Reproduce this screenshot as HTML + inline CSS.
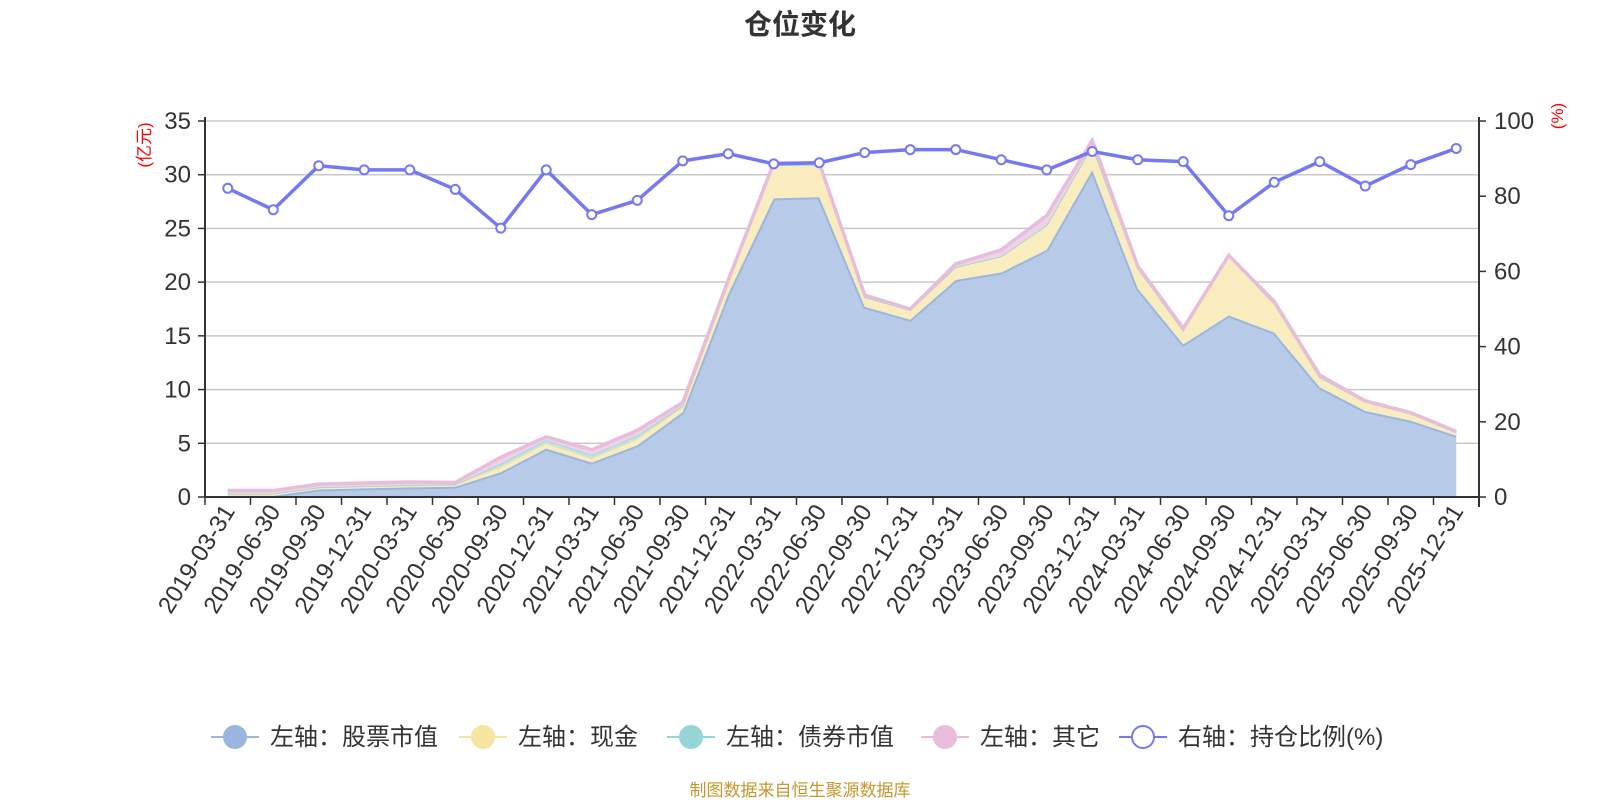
<!DOCTYPE html>
<html><head><meta charset="utf-8"><style>
html,body{margin:0;padding:0;background:#fff;}
svg{display:block;font-family:"Liberation Sans","Noto Sans CJK SC",sans-serif;}
</style></head><body>
<svg id="chart" width="1600" height="800" viewBox="0 0 1600 800" xmlns="http://www.w3.org/2000/svg">
<text x="800" y="34" text-anchor="middle" font-size="28" font-weight="bold" fill="#333">仓位变化</text>
<text transform="translate(150,145) rotate(-90)" text-anchor="middle" font-size="17" fill="#ff0000">(亿元)</text>
<text transform="translate(1563,116) rotate(-90)" text-anchor="middle" font-size="17" fill="#ff0000">(%)</text>
<g id="grid"></g><g id="areas"></g><g id="axes"></g><g id="pline"></g>
<g id="legend"></g>
<text x="800" y="796" text-anchor="middle" font-size="17" fill="#c8962c">制图数据来自恒生聚源数据库</text>
</svg>
<script>
const categories=["2019-03-31","2019-06-30","2019-09-30","2019-12-31","2020-03-31","2020-06-30","2020-09-30","2020-12-31","2021-03-31","2021-06-30","2021-09-30","2021-12-31","2022-03-31","2022-06-30","2022-09-30","2022-12-31","2023-03-31","2023-06-30","2023-09-30","2023-12-31","2024-03-31","2024-06-30","2024-09-30","2024-12-31","2025-03-31","2025-06-30","2025-09-30","2025-12-31"];
const stockValues=[0.1,0.1,0.7,0.8,0.9,0.95,2.3,4.5,3.2,4.8,7.9,18.9,27.8,27.9,17.7,16.5,20.2,20.9,23.0,30.4,19.4,14.2,16.9,15.3,10.2,8.0,7.1,5.7];
const cashValues=[0.2,0.2,0.2,0.2,0.2,0.2,0.5,0.5,0.4,0.6,0.5,1.1,3.1,3.0,0.9,0.9,1.2,1.5,2.3,2.3,1.9,1.3,5.5,2.7,0.95,0.85,0.65,0.3];
const bondValues=[0,0,0,0,0,0,0.3,0.3,0.3,0.3,0.1,0,0,0,0,0,0,0,0,0,0,0,0,0,0,0,0,0];
const otherValues=[0.3,0.3,0.3,0.3,0.3,0.2,0.6,0.3,0.5,0.5,0.3,0.2,0.2,0.2,0.2,0.1,0.3,0.6,0.9,0.5,0.2,0.2,0.1,0.2,0.2,0.1,0.1,0.1];
const ratioValues=[82.1,76.4,88.1,87.0,87.0,81.8,71.5,87.0,75.1,78.9,89.4,91.3,88.6,88.9,91.6,92.4,92.4,89.7,87.0,91.9,89.7,89.2,74.8,83.7,89.2,82.7,88.4,92.7];
const leftTicks=[0,5,10,15,20,25,30,35];
const rightTicks=[0,20,40,60,80,100];
const NS="http://www.w3.org/2000/svg";
const X0=205,X1=1479,Y0=497,Y1=121;
const band=(X1-X0)/categories.length;
function xs(i){return X0+band*(i+0.5);}
function yl(v){return Y0-(v/35)*(Y0-Y1);}
function yr(v){return Y0-(v/100)*(Y0-Y1);}
function mk(tag,attrs,parent){const e=document.createElementNS(NS,tag);for(const k in attrs)e.setAttribute(k,attrs[k]);parent.appendChild(e);return e;}
const grid=document.getElementById('grid'),axes=document.getElementById('axes'),areas=document.getElementById('areas'),pl=document.getElementById('pline'),lg=document.getElementById('legend');
leftTicks.forEach(t=>{
 const y=yl(t);
 if(t>0){const g=mk('line',{x1:X0,x2:X1,y1:y,y2:y,stroke:'#c8c8c8','stroke-width':1.5},grid);
 
 }
 const tk=mk('line',{x1:X0-7,x2:X0,y1:y,y2:y,stroke:'#333','stroke-width':1.5},axes);
 
 
 const tx=mk('text',{x:X0-14,y:y+8,'text-anchor':'end','font-size':24,fill:'#333'},axes);tx.textContent=t;
 
 
});
rightTicks.forEach(t=>{
 const y=yr(t);
 const tk=mk('line',{x1:X1,x2:X1+7,y1:y,y2:y,stroke:'#333','stroke-width':1.5},axes);
 
 
 const tx=mk('text',{x:X1+15,y:y+8,'font-size':24,fill:'#333'},axes);tx.textContent=t;
 
 
});
let a=mk('line',{x1:X0,x2:X0,y1:Y1-4,y2:Y0,stroke:'#333','stroke-width':2},axes);


a=mk('line',{x1:X1,x2:X1,y1:Y1-4,y2:Y0+10,stroke:'#333','stroke-width':2},axes);


a=mk('line',{x1:X0,x2:X1,y1:Y0,y2:Y0,stroke:'#333','stroke-width':2},axes);


for(let i=0;i<=categories.length;i++){
 const x=X0+band*i;
 const tk=mk('line',{x1:x,x2:x,y1:Y0,y2:Y0+8,stroke:'#333','stroke-width':1.5},axes);
 
 
}
categories.forEach((c,i)=>{
 const x=xs(i),y=Y0+14;
 const tx=mk('text',{transform:`translate(${x+8},${y}) rotate(-58)`,'text-anchor':'end','font-size':24,fill:'#333'},axes);
 tx.textContent=c;
 
 
});
const series=[[stockValues,'#b7cbe8','#9ab6e0','stock-area',4],[cashValues,'#f9edbf','#f5e5a0','cash-area',2],[bondValues,'#bfe3e4','#95d5d6','bond-area',1.5],[otherValues,'#eed3e6','#e8bcdb','other-area',3.5]];
let base=categories.map(()=>0);
series.forEach(([vals,fill,line,name,w])=>{
 const top=vals.map((v,i)=>base[i]+v);
 let d='M'+categories.map((c,i)=>xs(i)+','+yl(top[i])).join('L');
 for(let i=categories.length-1;i>=0;i--)d+='L'+xs(i)+','+yl(base[i]);
 d+='Z';
 const p=mk('path',{d:d,fill:fill,stroke:'none'},areas);
 
 
 const l=mk('polyline',{points:categories.map((c,i)=>xs(i)+','+yl(top[i])).join(' '),fill:'none',stroke:line,'stroke-width':w},areas);
 
 
 base=top;
});
const rl=mk('polyline',{points:ratioValues.map((v,i)=>xs(i)+','+yr(v)).join(' '),fill:'none',stroke:'#7578f5','stroke-width':3.5},pl);


ratioValues.forEach((v,i)=>{
 const c=mk('circle',{cx:xs(i),cy:yr(v),r:4.5,fill:'#fff',stroke:'#7578f5','stroke-width':2},pl);
 
 
});
const legendItems=[['左轴：股票市值','#9ab6e0',235,true],['左轴：现金','#f5e5a0',483,true],['左轴：债券市值','#95d5d6',691,true],['左轴：其它','#e8bcdb',945,true],['右轴：持仓比例(%)','#7578f5',1143,false]];
legendItems.forEach(([t,col,x,filled])=>{
 const g=mk('g',{},lg);
 
 
 mk('line',{x1:x-24,x2:x+24,y1:737,y2:737,stroke:col,'stroke-width':2},g);
 mk('circle',{cx:x,cy:737,r:11,fill:filled?col:'#fff',stroke:col,'stroke-width':2},g);
 const tx=mk('text',{x:x+35,y:745,'font-size':24,fill:'#333'},g);tx.textContent=t;
});
</script>
</body></html>
